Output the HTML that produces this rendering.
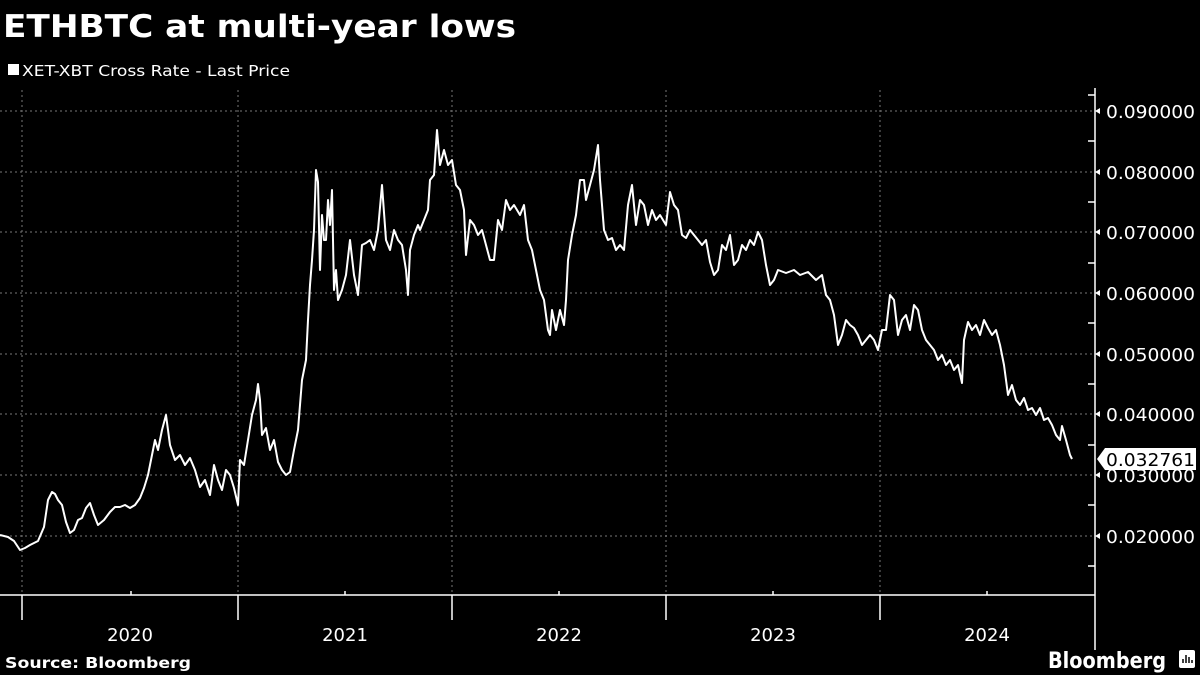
<!DOCTYPE html>
<html><head><meta charset="utf-8"><style>
html,body{margin:0;padding:0;background:#000;width:1200px;height:675px;overflow:hidden}
svg{display:block}
text{font-family:"DejaVu Sans","Liberation Sans",sans-serif;fill:#fff}
</style></head><body>
<svg width="1200" height="675" viewBox="0 0 1200 675">
<text x="3" y="37" font-size="31" font-weight="bold" textLength="513" lengthAdjust="spacingAndGlyphs">ETHBTC at multi-year lows</text>
<rect x="8" y="64" width="11" height="11" fill="#fff"/>
<text x="22" y="76" font-size="15" textLength="268" lengthAdjust="spacingAndGlyphs">XET-XBT Cross Rate - Last Price</text>
<g stroke="#777" stroke-width="1" stroke-dasharray="2,3">
<line x1="0" x2="1095" y1="111" y2="111"/><line x1="0" x2="1095" y1="172" y2="172"/>
<line x1="0" x2="1095" y1="232" y2="232"/><line x1="0" x2="1095" y1="293" y2="293"/>
<line x1="0" x2="1095" y1="354" y2="354"/><line x1="0" x2="1095" y1="414" y2="414"/>
<line x1="0" x2="1095" y1="475" y2="475"/><line x1="0" x2="1095" y1="536" y2="536"/>
<line x1="22" x2="22" y1="90" y2="595"/><line x1="238" x2="238" y1="90" y2="595"/>
<line x1="452" x2="452" y1="90" y2="595"/><line x1="666" x2="666" y1="90" y2="595"/>
<line x1="880" x2="880" y1="90" y2="595"/>
</g>
<g stroke="#fff" stroke-width="1.5" fill="none">
<line x1="1095" x2="1095" y1="88" y2="650"/>
<line x1="0" x2="1095" y1="595" y2="595"/>
<line x1="22" x2="22" y1="595" y2="620"/><line x1="238" x2="238" y1="595" y2="620"/>
<line x1="452" x2="452" y1="595" y2="620"/><line x1="666" x2="666" y1="595" y2="620"/>
<line x1="880" x2="880" y1="595" y2="620"/>
<path d="M1088 141h7M1088 202h7M1088 263h7M1088 323h7M1088 384h7M1088 445h7M1088 505h7M1088 566h7M1088 95h7M131 595v-4M345 595v-4M559 595v-4M773 595v-4M987 595v-4"/>
</g>
<g fill="#fff">
<path d="M1095 111l5 -3v6zM1095 172l5 -3v6zM1095 232l5 -3v6zM1095 293l5 -3v6zM1095 354l5 -3v6zM1095 414l5 -3v6zM1095 475l5 -3v6zM1095 536l5 -3v6z"/>
</g>
<g font-size="18">
<text x="1106" y="118" textLength="89" lengthAdjust="spacingAndGlyphs">0.090000</text><text x="1106" y="179" textLength="89" lengthAdjust="spacingAndGlyphs">0.080000</text>
<text x="1106" y="239" textLength="89" lengthAdjust="spacingAndGlyphs">0.070000</text><text x="1106" y="300" textLength="89" lengthAdjust="spacingAndGlyphs">0.060000</text>
<text x="1106" y="361" textLength="89" lengthAdjust="spacingAndGlyphs">0.050000</text><text x="1106" y="421" textLength="89" lengthAdjust="spacingAndGlyphs">0.040000</text>
<text x="1106" y="482" textLength="89" lengthAdjust="spacingAndGlyphs">0.030000</text><text x="1106" y="543" textLength="89" lengthAdjust="spacingAndGlyphs">0.020000</text>
</g>
<path d="M1097 459l8 -11h91v22h-91z" fill="#fff"/>
<text x="1106" y="466" font-size="18" textLength="89" lengthAdjust="spacingAndGlyphs" style="fill:#000">0.032761</text>
<g font-size="18" text-anchor="middle">
<text x="130" y="641">2020</text><text x="345" y="641">2021</text><text x="559" y="641">2022</text>
<text x="773" y="641">2023</text><text x="987" y="641">2024</text>
</g>
<polyline fill="none" stroke="#fff" stroke-width="2" stroke-linejoin="round" points="0,535 8,537 14,541 20,550 25,548 30,545 38,541 44,527 48,500 52,492 55,494 58,500 62,505 66,522 70,533 74,530 78,520 82,518 86,508 90,503 94,515 98,525 104,520 110,512 115,507 120,507 125,505 130,508 135,505 140,498 144,488 148,475 152,455 155,440 158,450 162,430 166,415 170,445 175,460 180,455 185,465 190,458 195,470 200,487 205,480 210,495 214,465 218,480 222,490 226,470 230,475 234,488 238,505 240,460 244,465 248,440 252,415 256,400 258,384 260,400 262,435 266,428 270,450 274,440 278,462 282,470 286,475 290,472 294,450 298,430 302,380 306,360 308,320 310,285 312,260 314,230 316,170 318,182 320,270 322,215 324,240 326,240 328,200 330,225 332,190 334,290 336,270 338,300 342,290 346,275 350,240 354,275 358,295 362,245 366,243 370,240 374,250 378,230 382,185 386,240 390,250 394,230 398,240 402,245 406,270 408,295 410,250 414,235 418,225 420,230 424,220 428,210 430,180 434,175 437,130 440,165 444,150 448,165 452,160 456,185 460,190 464,210 466,255 470,220 474,225 478,235 482,230 486,245 490,260 494,260 498,220 502,230 506,200 510,210 514,205 520,215 524,205 528,240 532,250 536,270 540,290 544,300 548,330 550,335 552,310 556,330 560,310 564,325 566,300 568,260 572,235 576,215 580,180 584,180 586,200 590,185 594,170 598,145 600,180 604,230 608,240 612,238 616,250 620,245 624,250 628,205 632,185 636,225 640,200 644,205 648,225 652,210 656,220 660,215 666,225 670,192 674,205 678,210 682,235 686,238 690,230 694,235 698,240 702,245 706,240 710,262 714,275 718,270 722,245 726,250 730,235 734,265 738,260 742,245 746,250 750,240 754,245 758,232 762,240 766,265 770,285 774,280 778,270 786,273 794,270 800,275 808,272 816,280 822,275 826,295 830,300 834,315 838,345 842,335 846,320 850,325 854,328 858,335 862,345 866,340 870,335 874,340 878,350 882,330 886,330 890,295 894,300 898,335 902,320 906,315 910,330 914,305 918,310 922,330 926,340 930,345 934,350 938,360 942,355 946,365 950,360 954,370 958,365 962,383 964,340 968,322 972,330 976,325 980,335 984,320 988,328 992,335 996,330 1000,345 1004,365 1008,395 1012,385 1016,400 1020,405 1024,398 1028,410 1032,408 1036,415 1040,408 1044,420 1048,418 1052,425 1056,435 1060,440 1062,426 1066,440 1070,455 1072,459"/>
<text x="5" y="668" font-size="15" font-weight="bold" textLength="186" lengthAdjust="spacingAndGlyphs">Source: Bloomberg</text>
<text x="1048" y="668" font-size="22" font-weight="bold" font-family="Liberation Sans" textLength="118" lengthAdjust="spacingAndGlyphs">Bloomberg</text>
<rect x="1179" y="650" width="16" height="18" rx="2" fill="#fff"/>
<path d="M1183 663v-4M1186 663v-8M1189 663v-6M1192 663v-3" stroke="#000" stroke-width="1.5"/>
</svg>
</body></html>
